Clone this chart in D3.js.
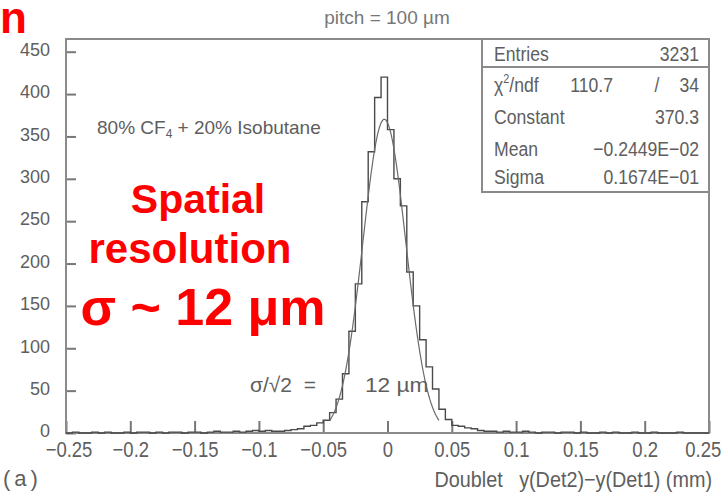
<!DOCTYPE html>
<html><head><meta charset="utf-8">
<script src="https://cdn.jsdelivr.net/npm/d3@7"></script>
<style>body{margin:0;background:#fff}svg{display:block}</style>
</head><body>
<svg id="c" width="725" height="493"></svg>
<script>
// ---------- data ----------
const binStart = -0.25;          // histogram low edge
const binWidth = 0.005;          // 100 bins over [-0.25, 0.25]
const counts = [
  0,1,0,0,1,0,1,0,0,1, 0,1,1,0,1,0,1,1,0,1,
  1,0,1,2,1,1,2,1,2,3,2,3,
  2,2,3,4,5,8,9,12,15,24,40,70,120,176,273,332,396,420,
  358,300,268,190,150,110,78,52,28,16,9,8,6,5,3,2,
  2,1,2,1,1,2,1,0,1,1, 0,1,1,0,1,0,0,1,0,1,
  0,0,1,0,0,1,0,0,0,1, 0,0,0,0
];
const fitConstant = 370.3, fitMean = -0.2449E-02, fitSigma = 0.1674E-01;
const fitRange = [-0.045, 0.04];
const yTicks = [0,50,100,150,200,250,300,350,400,450];
const yMinor = d3.range(0, 461, 10);
const xTicks = [-0.25,-0.2,-0.15,-0.1,-0.05,0,0.05,0.1,0.15,0.2,0.25];
const xTickLabels = ["\u22120.25","\u22120.2","\u22120.15","\u22120.1","\u22120.05","0","0.05","0.1","0.15","0.2","0.25"];
const xMinor = d3.range(-250, 251, 10).map(v => v / 1000);
const statLabels = ["Entries", "Constant", "Mean", "Sigma"];
const statValues = ["3231", "370.3", "\u22120.2449E\u221202", "0.1674E\u221201"];
const chiValues = ["110.7", "/", "34"];

// ---------- scales ----------
const svg = d3.select("#c");
const x = d3.scaleLinear().domain([-0.25, 0.25]).range([66, 709]);
const y = d3.scaleLinear().domain([0, 465]).range([433, 39]);
const grey = "#5e5e5e";
const fontS = "'Liberation Sans',Arial,sans-serif";
const NARROW = 0.84;

// narrow (condensed) gray text helper
function ntext(px, py, str, size, anchor, sx) {
  const g = svg.append("g").attr("transform", `translate(${px},${py}) scale(${sx || NARROW},1)`);
  return g.append("text").attr("text-anchor", anchor || "start")
    .attr("font-family", fontS).attr("font-size", size).attr("fill", grey).text(str);
}

// ---------- axes ----------
const gy = svg.append("g").attr("transform", `translate(${x.range()[0]},0)`);
gy.call(d3.axisRight(y).tickValues(yMinor).tickSize(5).tickFormat(""));
gy.call(d3.axisRight(y).tickValues(yTicks).tickSize(10).tickFormat(""));
gy.selectAll("path.domain").remove();
gy.selectAll("line").attr("stroke", "#777").attr("stroke-width", 2);

const gyl = svg.append("g").attr("transform", `translate(${x.range()[0]},-2)`)
  .call(d3.axisLeft(y).tickValues(yTicks).tickSize(0).tickPadding(16));
gyl.select("path.domain").remove();
gyl.selectAll("text").attr("font-family", fontS).attr("font-size", 18).attr("fill", grey);

const gx = svg.append("g").attr("transform", `translate(0,${y(0)})`);
gx.call(d3.axisTop(x).tickValues(xMinor).tickSize(6).tickFormat(""));
gx.call(d3.axisTop(x).tickValues(xTicks).tickSize(12).tickFormat(""));
gx.selectAll("path.domain").remove();
gx.selectAll("line").attr("stroke", "#777").attr("stroke-width", 2);

const nLast = xTicks.length - 1;
const gxl = svg.append("g").attr("transform", `translate(0,${y(0)})`)
  .call(d3.axisBottom(x).tickValues(xTicks).tickSize(0).tickPadding(8)
    .tickFormat((d, i) => xTickLabels[i]));
gxl.select("path.domain").remove();
gxl.selectAll("text").attr("font-family", fontS).attr("font-size", 22).attr("fill", grey)
  .attr("transform", `scale(${NARROW},1)`)
  .attr("text-anchor", (d, i) => i === nLast ? "end" : "middle")
  .attr("dx", (d, i) => i === nLast ? 14 : (i === 0 ? 3 : 0));

// frame
svg.append("rect").attr("x", x.range()[0]).attr("y", y.range()[1])
  .attr("width", x.range()[1] - x.range()[0]).attr("height", y.range()[0] - y.range()[1])
  .attr("fill", "none").attr("stroke", "#8a8a8a").attr("stroke-width", 2);

// ---------- histogram ----------
const pts = counts.map((c, i) => [binStart + i * binWidth, c]);
pts.push([binStart + counts.length * binWidth, counts[counts.length - 1]]);
svg.append("path").datum(pts)
  .attr("d", d3.line().x(d => x(d[0])).y(d => y(d[1])).curve(d3.curveStepAfter))
  .attr("fill", "none").attr("stroke", "#4a4a4a").attr("stroke-width", 1.4);

// fit curve from the fit parameters
const fitX = d3.range(fitRange[0], fitRange[1] + 1e-9, 0.001);
svg.append("path").datum(fitX)
  .attr("d", d3.line().x(d => x(d)).y(d => y(fitConstant * Math.exp(-0.5 * ((d - fitMean) / fitSigma) ** 2))))
  .attr("fill", "none").attr("stroke", "#6a6a6a").attr("stroke-width", 1.2);

// ---------- stats box ----------
const bx0 = 482, bx1 = x.range()[1], by0 = y.range()[1], by1 = 192;
svg.append("rect").attr("x", bx0).attr("y", by0).attr("width", bx1 - bx0).attr("height", by1 - by0)
  .attr("fill", "#fff").attr("stroke", "#8a8a8a").attr("stroke-width", 2);
svg.append("line").attr("x1", bx0).attr("x2", bx1).attr("y1", 67).attr("y2", 67)
  .attr("stroke", "#8a8a8a").attr("stroke-width", 2);
const rowY = {Entries: 61, Constant: 124, Mean: 156, Sigma: 184};
statLabels.forEach((l, i) => {
  ntext(494, rowY[l], l, 21, "start");
  ntext(699, rowY[l], statValues[i], 21, "end");
});
const chi = ntext(494, 92, "", 21, "start");
chi.append("tspan").text("\u03c7");
chi.append("tspan").text("2").attr("font-size", 13).attr("dy", -9);
chi.append("tspan").text("/ndf").attr("dy", 9);
ntext(613, 92, chiValues[0], 21, "end");
ntext(657, 92, chiValues[1], 21, "middle");
ntext(699, 92, chiValues[2], 21, "end");

// ---------- annotations ----------
svg.append("text").attr("x", 387).attr("y", 24).attr("text-anchor", "middle")
  .attr("font-family", fontS).attr("font-size", 19).attr("fill", "#777")
  .text("pitch = 100 \u00b5m");

const gas = svg.append("text").attr("x", 97).attr("y", 134)
  .attr("font-family", fontS).attr("font-size", 19).attr("fill", grey);
gas.append("tspan").text("80% CF");
gas.append("tspan").text("4").attr("font-size", 12).attr("dy", 4);
gas.append("tspan").text(" + 20% Isobutane").attr("dy", -4);

ntext(250, 392, "\u03c3/\u221a2\u00a0\u00a0=", 21, "start", 1.0);
ntext(365, 392, "12 \u00b5m", 21, "start", 1.08);

ntext(3, 486, "(a)", 22, "start", 1).attr("letter-spacing", 4);
ntext(712, 487, "Doublet\u00a0\u00a0\u00a0y(Det2)\u2212y(Det1) (mm)", 22, "end", 0.9);

// red overlay text
const red = "#ff0000";
svg.append("text").attr("x", 0).attr("y", 33)
  .attr("font-family", fontS).attr("font-weight", "bold").attr("font-size", 44).attr("fill", red).text("n");
svg.append("text").attr("x", 198).attr("y", 213).attr("text-anchor", "middle")
  .attr("font-family", fontS).attr("font-weight", "bold").attr("font-size", 41).attr("fill", red).text("Spatial");
svg.append("text").attr("x", 190).attr("y", 263).attr("text-anchor", "middle")
  .attr("font-family", fontS).attr("font-weight", "bold").attr("font-size", 42).attr("fill", red).text("resolution");
svg.append("text").attr("x", 203).attr("y", 325).attr("text-anchor", "middle")
  .attr("font-family", fontS).attr("font-weight", "bold").attr("font-size", 52).attr("fill", red).text("\u03c3 ~ 12 \u03bcm");
</script>
</body></html>
